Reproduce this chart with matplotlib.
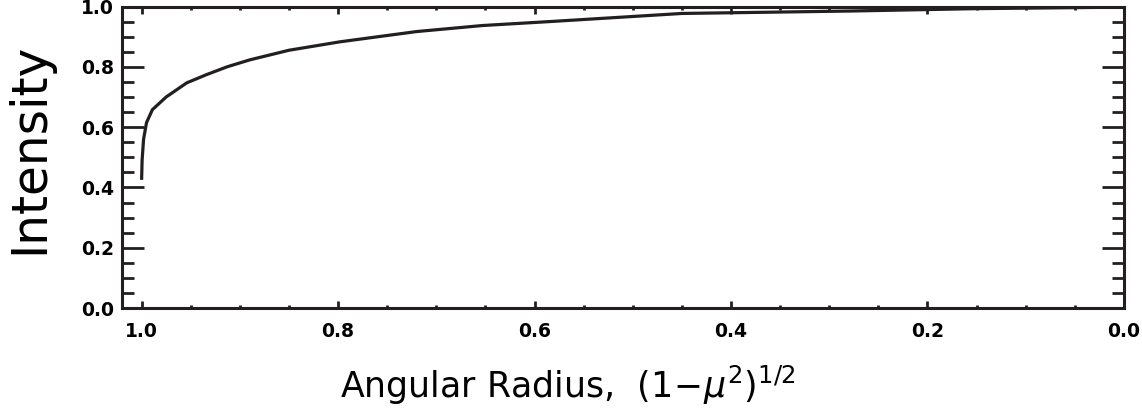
import matplotlib
matplotlib.use("Agg")
import matplotlib.pyplot as plt
from matplotlib.ticker import MultipleLocator

# limb darkening profile
radius = [1.0, 0.9995, 0.998, 0.995, 0.989, 0.975, 0.954, 0.934, 0.913, 0.89,
          0.85, 0.798, 0.72, 0.653, 0.585, 0.45, 0.28, 0.15, 0.0]
intensity = [0.425, 0.49, 0.56, 0.615, 0.658, 0.70, 0.747, 0.774, 0.80, 0.823,
             0.855, 0.883, 0.917, 0.937, 0.95, 0.977, 0.985, 0.993, 0.998]

x_ticks = [1.0, 0.8, 0.6, 0.4, 0.2, 0.0]
y_ticks = [0.0, 0.2, 0.4, 0.6, 0.8, 1.0]

plt.rcParams['font.family'] = ['DejaVu Sans']
plt.rcParams['mathtext.fontset'] = 'dejavusans'

fig = plt.figure(figsize=(11.42, 4.08), dpi=100)
ax = fig.add_axes([0.1068, 0.245, 0.9842 - 0.1068, 0.984 - 0.245])

ax.plot(radius, intensity, color='#231f20', lw=2.3, solid_capstyle='butt')

ax.set_xlim(1.02, 0.0)
ax.set_ylim(0.0, 1.0)
ax.set_xticks(x_ticks)
ax.set_yticks(y_ticks)
ax.set_xticklabels([f"{v:.1f}" for v in x_ticks], fontsize=13.5, fontweight='bold')
ax.set_yticklabels([f"{v:.1f}" for v in y_ticks], fontsize=13.5, fontweight='bold')
ax.xaxis.set_minor_locator(MultipleLocator(0.05))
ax.yaxis.set_minor_locator(MultipleLocator(0.05))

for s in ax.spines.values():
    s.set_linewidth(2.2)
    s.set_color('#231f20')

ax.tick_params(axis='both', which='both', direction='in', top=True, right=True,
               color='#231f20', width=2.0)
ax.tick_params(axis='x', which='major', length=5, pad=10)
ax.tick_params(axis='x', which='minor', length=2.5)
ax.tick_params(axis='y', which='major', length=16, pad=6)
ax.tick_params(axis='y', which='minor', length=8.5)

ax.set_xlabel(r"Angular Radius,  $(1\!-\!\mu^2)^{1/2}$", fontsize=25)
ax.set_ylabel("Intensity", fontsize=35)
# the original labels sit a little off the axis centre
ax.xaxis.set_label_coords(0.445, -0.185)
ax.yaxis.set_label_coords(-0.069, 0.528)

fig.savefig("out.png", dpi=100)
